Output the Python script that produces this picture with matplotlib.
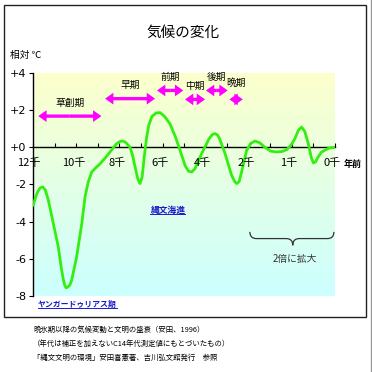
import numpy as np
import matplotlib
matplotlib.use('Agg')
import matplotlib.pyplot as plt
from matplotlib.patches import FancyArrowPatch, Rectangle, PathPatch
from matplotlib.path import Path
from matplotlib.lines import Line2D
from matplotlib.colors import LinearSegmentedColormap

plt.rcParams['font.family'] = ['Noto Sans CJK JP', 'DejaVu Sans']

# climate curve (x = position along the time axis, 0 = 12千 ... 14 = 0千)
curve_x = [0.00, 0.10, 0.20, 0.32, 0.44, 0.56, 0.70, 0.93, 1.16, 1.30, 1.39, 1.46, 1.52,
           1.60, 1.70, 1.78, 2.01, 2.25, 2.40, 2.55, 2.71, 2.90, 3.10, 3.35, 3.56, 3.85,
           4.00, 4.10, 4.20, 4.30, 4.49, 4.60, 4.75, 4.85, 4.95, 5.05, 5.15, 5.26,
           5.36, 5.50, 5.70, 5.88, 6.10, 6.34, 6.60, 6.81, 7.05, 7.20, 7.35, 7.50, 7.81,
           8.15, 8.30, 8.43, 8.55, 8.65, 8.90, 9.20, 9.35, 9.44, 9.55, 9.65, 9.90, 10.10,
           10.29, 10.50, 10.75, 11.00, 11.29, 11.55, 11.76, 11.95, 12.14, 12.30, 12.45,
           12.60, 12.76, 12.90, 13.00, 13.10, 13.20, 13.38, 13.70, 14.00]
curve_y = [-3.12, -2.70, -2.40, -2.18, -2.13, -2.30, -2.85, -4.10, -5.36, -6.50, -7.10, -7.42, -7.56,
           -7.52, -7.40, -7.15, -5.90, -4.10, -2.67, -1.86, -1.33, -1.10, -0.88, -0.55, -0.25, 0.18,
           0.30, 0.34, 0.32, 0.25, 0.00, -0.40, -1.20, -1.70, -1.95, -1.60, -0.50, 0.55,
           1.20, 1.65, 1.85, 1.87, 1.65, 1.27, 0.55, -0.16, -1.00, -1.28, -1.33, -1.15, -0.34,
           0.45, 0.68, 0.74, 0.66, 0.45, -0.34, -1.50, -1.85, -1.95, -1.85, -1.40, -0.16, 0.22,
           0.34, 0.25, 0.00, -0.20, -0.25, -0.22, -0.12, 0.10, 0.47, 0.92, 1.09,
           0.85, 0.20, -0.55, -0.84, -0.78, -0.55, -0.25, -0.05, 0.00]

xtick_pos = [0, 2, 4, 6, 8, 10, 12, 14]
xtick_labels = ['12千', '10千', '8千', '6千', '4千', '2千', '1千', '0千']
ytick_vals = [4, 2, 0, -2, -4, -6, -8]
ytick_labels = ['+4', '+2', '+0', '-2', '-4', '-6', '-8']

period_names = ['草創期', '早期', '前期', '中期', '後期', '晩期']
period_start = [0.23, 3.33, 5.74, 7.04, 8.01, 9.10]
period_end = [3.16, 5.65, 6.96, 7.97, 9.02, 9.72]
period_y = [1.68, 2.62, 3.06, 2.58, 3.06, 2.58]

notes = ['晩氷期以降の気候変動と文明の盛衰（安田、1996）',
         '（年代は補正を加えないC14年代測定値にもとづいたもの）',
         '「縄文文明の環境」安田喜憲著、吉川弘文館発行　参照']

W = 372
fig = plt.figure(figsize=(3.72, 3.72), dpi=100)
fig.patch.set_facecolor('white')

def fx(px):
    return px / W

def fy(py):
    return 1 - py / W

ax = fig.add_axes([fx(33.3), fy(296), fx(335 - 33.3), (296 - 73) / W])
ax.set_xlim(0, 14)
ax.set_ylim(-8, 4)

# gradient background
cmap = LinearSegmentedColormap.from_list('bg', ['#ccffff', '#fcffcc'])
grad = np.linspace(0, 1, 256).reshape(-1, 1)
ax.imshow(grad, extent=[0, 14, -8, 4], origin='lower', aspect='auto', cmap=cmap, zorder=0)

ax.plot(curve_x, curve_y, color='#33ee11', lw=2.0, solid_joinstyle='round',
        solid_capstyle='round', zorder=3)

# axes
for s in ['top', 'right']:
    ax.spines[s].set_visible(False)
ax.spines['bottom'].set_position(('data', 0))
ax.spines['bottom'].set_linewidth(1.0)
ax.spines['left'].set_linewidth(1.0)
ax.set_xticks(range(15))
ax.set_xticklabels([])
ax.tick_params(axis='x', direction='in', length=3, width=0.8)
ax.set_yticks(ytick_vals)
ax.set_yticklabels(ytick_labels, fontsize=8, family=['DejaVu Sans'])
ax.tick_params(axis='y', direction='out', length=3, width=0.8, pad=2)

for p, lab in zip(xtick_pos, xtick_labels):
    dx = -3.5 if p == 0 else -2
    ax.annotate(lab, (p, 0), xytext=(dx, -11), textcoords='offset points',
                ha='center', va='center', fontsize=8)
ax.annotate('年前', (14, 0), xytext=(13, -12), textcoords='offset points',
            ha='center', va='center', fontsize=6.5, fontweight='bold', annotation_clip=False)

# period arrows (two single-headed halves from the middle)
style = 'simple,head_length=0.6,head_width=0.85,tail_width=0.24'
for name, x0, x1, y in zip(period_names, period_start, period_end, period_y):
    xm = (x0 + x1) / 2
    for xe in (x0, x1):
        ax.add_patch(FancyArrowPatch((xm, y), (xe, y), arrowstyle=style, mutation_scale=10,
                                     shrinkA=0, shrinkB=0, color='#ff00ff', lw=0, zorder=4))
    dy = 0.9 if name == '晩期' else 0.72
    ax.text(xm, y + dy, name, ha='center', va='center', fontsize=7, zorder=4)

# blue labels
t1 = ax.text(6.25, -3.39, '縄文海進', ha='center', va='center', fontsize=6.3,
             color='#1a1acc', fontweight='bold', zorder=4)
t2 = ax.text(0.22, -8.45, 'ヤンガードゥリアス期', ha='left', va='center', fontsize=5.7,
             color='#1a1acc', fontweight='bold', clip_on=False, zorder=4)

# brace
bx0, bx1, bxc = 10.05, 13.95, 12.04
by0, by1, by2 = -4.55, -4.91, -5.27
verts = [(bx0, by0), (bx0, by1), (bx0 + 0.3, by1), (bxc - 0.3, by1), (bxc, by1), (bxc, by2),
         (bxc, by1), (bxc + 0.3, by1), (bx1 - 0.3, by1), (bx1, by1), (bx1, by0)]
codes = [Path.MOVETO, Path.CURVE3, Path.CURVE3, Path.LINETO, Path.CURVE3, Path.CURVE3,
         Path.CURVE3, Path.CURVE3, Path.LINETO, Path.CURVE3, Path.CURVE3]
ax.add_patch(PathPatch(Path(verts, codes), fill=False, color='#333333', lw=0.9, zorder=4))
ax.text(12.14, -6.02, '2倍に拡大', ha='center', va='center', fontsize=7, color='#333333')

# titles and notes
fig.text(fx(183), fy(33), '気候の変化', ha='center', va='center', fontsize=10.5)
fig.text(fx(10), fy(55), '相対 ℃', ha='left', va='center', fontsize=7)
for i, line in enumerate(notes):
    fig.text(fx(33), fy(330 + 14 * i), line, ha='left', va='center', fontsize=5.3)

# frame
fig.add_artist(Rectangle((fx(4), fy(317)), fx(366 - 4), (317 - 5) / W, fill=False,
                         edgecolor='#222222', lw=1.0, transform=fig.transFigure))
fig.add_artist(Line2D([fx(370.5), fx(370.5)], [0, 1], color='#999999', lw=1.0,
                      transform=fig.transFigure))

# underline the blue labels
fig.canvas.draw()
inv = fig.transFigure.inverted()
for t in (t1, t2):
    bb = t.get_window_extent()
    (x0, y0), (x1, y1) = inv.transform([(bb.x0, bb.y0), (bb.x1, bb.y1)])
    fig.add_artist(Line2D([x0, x1], [y0 + 0.002, y0 + 0.002], color='#1a1acc', lw=0.7,
                          transform=fig.transFigure))

fig.savefig('out.png', dpi=100)
